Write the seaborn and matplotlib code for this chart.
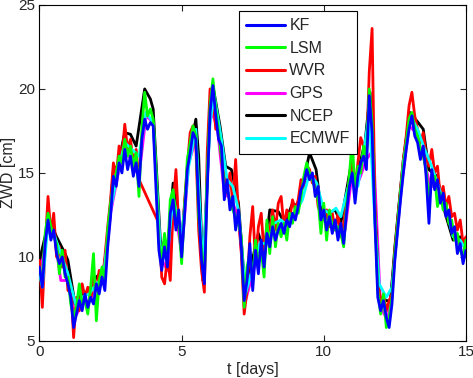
import numpy as np
import pandas as pd
import matplotlib
matplotlib.use('Agg')
import matplotlib.pyplot as plt
import seaborn as sns

# ==================== data ====================
# KF / LSM / WVR: every 0.1 day, GPS: every 0.25 day
t_fine = np.round(np.arange(0, 15.01, 0.1), 2)
t_gps = np.arange(0, 15.01, 0.25)

kf = [9.4, 8.2, 10.8, 12.2, 11.0, 11.6, 10.2, 9.6, 10.0, 9.0,
      8.4, 7.6, 5.8, 6.6, 7.4, 6.8, 7.8, 7.0, 7.6, 7.2,
      8.4, 7.8, 8.8, 8.0, 10.6, 12.4, 14.8, 14.2, 15.6, 15.0,
      16.4, 15.2, 16.0, 14.8, 15.6, 14.2, 17.0, 18.2, 17.6, 18.0,
      17.8, 14.0, 10.4, 9.2, 10.6, 9.4, 12.6, 13.4, 11.6, 12.8,
      10.0, 12.4, 15.2, 16.2, 17.4, 17.0, 13.0, 9.8, 8.4, 14.0,
      18.6, 20.2, 18.4, 17.0, 16.6, 13.4, 14.6, 12.8, 13.6, 11.6,
      12.8, 10.6, 7.4, 8.6, 10.8, 8.0, 10.4, 9.0, 11.0, 9.4,
      11.4, 10.6, 11.8, 11.0, 11.6, 12.0, 11.4, 12.2, 11.8, 12.6,
      12.2, 13.0, 14.0, 14.4, 15.2, 14.6, 15.0, 13.6, 14.2, 12.2,
      12.8, 11.6, 12.4, 11.4, 12.2, 11.0, 12.0, 10.8, 12.6, 14.2,
      15.0, 13.2, 14.8, 15.6, 16.0, 15.2, 19.6, 17.4, 12.0, 7.6,
      6.8, 7.4, 6.4, 5.8, 7.2, 9.8, 11.6, 13.4, 15.0, 16.4,
      17.6, 18.4, 17.2, 16.8, 15.8, 16.6, 14.8, 12.0, 15.2, 14.0,
      14.6, 13.2, 13.8, 12.4, 12.8, 11.4, 11.8, 10.2, 10.8, 9.6,
      10.4]

lsm = [9.0, 8.8, 11.4, 12.6, 11.8, 11.2, 10.8, 9.0, 10.4, 8.8,
       8.8, 7.2, 6.4, 7.0, 8.4, 7.2, 7.4, 6.6, 8.2, 10.2,
       6.2, 8.6, 9.4, 8.6, 11.6, 13.2, 14.4, 15.0, 16.0, 15.6,
       17.0, 16.0, 16.6, 15.4, 16.2, 13.6, 17.6, 19.8, 18.4, 18.8,
       18.2, 15.0, 10.8, 9.8, 11.4, 10.0, 13.4, 14.0, 12.2, 12.0,
       9.6, 12.8, 15.8, 16.8, 17.8, 17.2, 12.4, 10.4, 8.6, 14.8,
       19.0, 20.6, 18.8, 17.4, 16.0, 14.2, 14.0, 13.4, 12.8, 12.4,
       12.0, 11.2, 7.0, 9.4, 10.2, 8.6, 11.0, 9.6, 10.4, 8.8,
       12.2, 10.2, 12.4, 10.6, 12.0, 11.2, 12.0, 11.0, 12.6, 12.0,
       13.0, 12.6, 13.6, 14.8, 15.6, 15.0, 14.6, 14.0, 13.4, 11.4,
       13.2, 11.0, 12.8, 11.8, 11.6, 11.8, 11.4, 10.6, 13.0, 14.8,
       17.0, 13.8, 15.4, 15.0, 16.6, 15.8, 20.0, 18.0, 12.6, 8.0,
       6.6, 7.8, 5.8, 6.4, 7.6, 10.2, 12.0, 13.8, 15.4, 16.8,
       18.2, 18.6, 17.6, 17.2, 16.4, 16.0, 15.2, 13.4, 14.6, 14.8,
       13.0, 13.8, 12.8, 13.2, 12.0, 12.2, 11.0, 11.4, 10.4, 10.0,
       11.0]

# WVR has no data between 3.5 and 4.2 days (None)
wvr = [9.8, 7.0, 10.6, 13.6, 11.4, 12.6, 10.0, 10.6, 9.4, 10.4,
       8.0, 8.4, 5.2, 7.6, 6.8, 8.4, 7.6, 8.2, 7.4, 8.8,
       8.0, 9.2, 8.4, 10.0, 11.8, 13.4, 15.6, 14.8, 16.6, 16.0,
       17.9, 16.4, 17.0, 15.6, 16.4, 14.6, None, None, None, None,
       None, None, 12.0, 8.8, 8.4, 10.0, 8.6, 13.0, 15.2, 11.8,
       10.4, 13.2, 15.4, 17.4, 17.8, 16.6, 11.6, 9.2, 7.9, 16.2,
       20.0, 19.6, 17.6, 18.0, 15.8, 14.8, 13.8, 15.0, 13.2, 15.8,
       12.4, 10.2, 6.6, 8.0, 11.2, 13.0, 9.6, 11.8, 12.6, 10.2,
       12.0, 11.4, 12.8, 11.6, 13.2, 13.6, 11.8, 12.8, 12.2, 13.4,
       12.8, 13.4, 14.6, 14.2, 15.4, 15.2, 14.4, 14.8, 13.0, 12.6,
       12.2, 12.8, 11.8, 12.6, 11.6, 12.6, 11.2, 12.0, 13.4, 14.6,
       15.8, 14.2, 15.6, 17.1, 16.6, 16.0, 21.0, 23.6, 13.0, 8.6,
       7.2, 7.8, 6.8, 7.4, 7.8, 10.4, 12.2, 14.0, 15.8, 17.2,
       19.0, 19.8, 18.4, 17.6, 16.8, 17.4, 16.0, 15.4, 16.4, 15.0,
       15.4, 13.6, 14.2, 13.0, 13.6, 12.4, 12.6, 11.6, 12.2, 10.8,
       11.2]

gps = [9.2, 11.4, 11.6, 8.6, 8.6, 6.4, 7.2, 7.4, 8.2, 8.6,
       12.6, 14.8, 16.6, 15.6, 14.8, 18.4, 18.0, 10.0, 9.2, 13.0,
       10.2, 15.6, 17.0, 8.6, 18.8, 17.8, 13.8, 13.4, 12.4, 7.4,
       9.0, 10.6, 11.0, 11.8, 11.8, 12.0, 12.6, 14.2, 14.8, 14.0,
       12.6, 12.0, 11.6, 11.6, 15.0, 14.6, 15.8, 16.4, 7.0, 6.2,
       10.0, 14.4, 17.8, 17.4, 16.0, 14.2, 14.2, 13.0, 11.8, 10.8,
       10.6]

t_ncep = [0.0, 0.25, 0.4, 0.6, 0.9, 1.0, 1.25, 1.5, 1.75, 2.0,
          2.25, 2.4, 2.6, 2.75, 3.0, 3.2, 3.4, 3.7, 3.9, 4.0,
          4.25, 4.4, 4.5, 4.7, 4.9, 5.0, 5.25, 5.5, 5.6, 5.75,
          6.0, 6.1, 6.35, 6.55, 6.75, 7.0, 7.25, 7.35, 7.7, 7.93,
          8.1, 8.4, 8.63, 8.9, 9.1, 9.5, 9.73, 9.95, 10.15, 10.4,
          10.6, 10.95, 11.13, 11.45, 11.63, 11.8, 11.95, 12.2, 12.35, 12.5,
          12.8, 13.03, 13.32, 13.5, 13.7, 13.98, 14.27, 14.55, 14.8, 15.0]
ncep = [9.8, 11.6, 12.0, 11.2, 10.2, 9.8, 7.2, 7.8, 8.0, 8.8,
        9.2, 11.0, 15.2, 15.4, 17.4, 17.3, 16.6, 20.0, 19.4, 18.8,
        11.0, 10.2, 10.4, 14.4, 11.8, 11.0, 16.0, 18.2, 16.0, 8.6,
        18.4, 20.2, 17.8, 15.4, 15.2, 13.2, 7.6, 8.8, 11.4, 10.2,
        12.8, 12.7, 12.0, 13.2, 13.0, 16.2, 15.2, 12.2, 12.6, 12.8,
        12.0, 15.4, 14.6, 16.8, 19.8, 12.8, 7.6, 7.4, 7.4, 10.6,
        15.8, 18.6, 18.0, 17.6, 15.2, 14.8, 12.6, 11.0, 11.2, 10.6]

t_ecmwf = [0.0, 0.1, 0.3, 0.5, 0.75, 1.0, 1.3, 1.5, 1.75, 2.0,
           2.25, 2.5, 2.75, 3.0, 3.25, 3.5, 3.75, 4.0, 4.25, 4.5,
           4.7, 5.0, 5.25, 5.5, 5.75, 6.0, 6.15, 6.4, 6.6, 6.8,
           7.0, 7.25, 7.5, 7.75, 8.0, 8.25, 8.5, 8.75, 9.0, 9.25,
           9.5, 9.75, 10.0, 10.2, 10.43, 10.6, 10.95, 11.2, 11.45, 11.6,
           11.8, 11.95, 12.2, 12.4, 12.6, 12.8, 13.05, 13.3, 13.55, 13.75,
           14.0, 14.3, 14.55, 14.8, 15.0]
ecmwf = [9.0, 8.2, 12.0, 11.4, 10.2, 9.0, 7.0, 7.6, 7.8, 8.4,
         8.8, 12.8, 15.0, 16.8, 16.4, 16.0, 18.6, 18.0, 10.6, 10.0,
         13.6, 11.2, 15.4, 17.6, 9.2, 18.0, 19.6, 17.0, 14.6, 14.2,
         12.8, 7.8, 9.4, 10.8, 10.8, 12.0, 12.2, 11.8, 12.6, 13.4,
         15.0, 14.4, 12.8, 12.6, 12.9, 12.4, 14.8, 14.2, 16.8, 18.6,
         12.0, 8.4, 7.6, 8.2, 11.8, 15.6, 18.4, 17.6, 16.4, 15.6,
         14.4, 12.8, 11.2, 11.0, 10.4]

# ==================== plot ====================
sns.set_style('ticks')
plt.rcParams['font.family'] = ['Liberation Sans', 'DejaVu Sans']

fig = plt.figure(figsize=(4.73, 3.78), dpi=100)
ax = fig.add_axes([0.0835, 0.098, 0.9015, 0.889])

df_wvr = pd.DataFrame({'t': t_fine, 'v': wvr}).dropna()

# draw order: GPS mostly hidden, KF ends up on top
series = [
    ('GPS', t_gps, gps, '#ff00ff', 1),
    ('NCEP', t_ncep, ncep, '#000000', 2),
    ('WVR', df_wvr['t'].values, df_wvr['v'].values, '#ff0000', 3),
    ('ECMWF', t_ecmwf, ecmwf, '#00ffff', 4),
    ('LSM', t_fine, lsm, '#00ff00', 5),
    ('KF', t_fine, kf, '#0000ff', 6),
]
colors = {}
for name, tt, vv, col, z in series:
    sns.lineplot(x=tt, y=vv, color=col, lw=2, ax=ax, zorder=z,
                 estimator=None, sort=False)
    colors[name] = col

ax.set_xlim(0, 15)
ax.set_ylim(5, 25)
ax.set_xticks([0, 5, 10, 15])
ax.set_yticks([5, 10, 15, 20, 25])
ax.tick_params(direction='in', length=4, width=0.8, top=True, right=True,
               labelsize=11, pad=3)
for s in ax.spines.values():
    s.set_color('black')
    s.set_linewidth(0.8)
ax.set_xlabel('t [days]', fontsize=11.5, labelpad=2)
ax.set_ylabel('ZWD [cm]', fontsize=11.5, labelpad=2)

order = ['KF', 'LSM', 'WVR', 'GPS', 'NCEP', 'ECMWF']
leg_lines = [plt.Line2D([], [], color=colors[n], lw=2.2) for n in order]
leg = ax.legend(leg_lines, order, loc='upper left', bbox_to_anchor=(0.468, 0.982),
                frameon=True, fancybox=False, edgecolor='black', framealpha=1,
                fontsize=11.5, handlelength=2.4, handletextpad=0.3,
                labelspacing=0.48, borderpad=0.45, borderaxespad=0)
leg.get_frame().set_linewidth(0.8)

fig.savefig('out.png', dpi=100)
